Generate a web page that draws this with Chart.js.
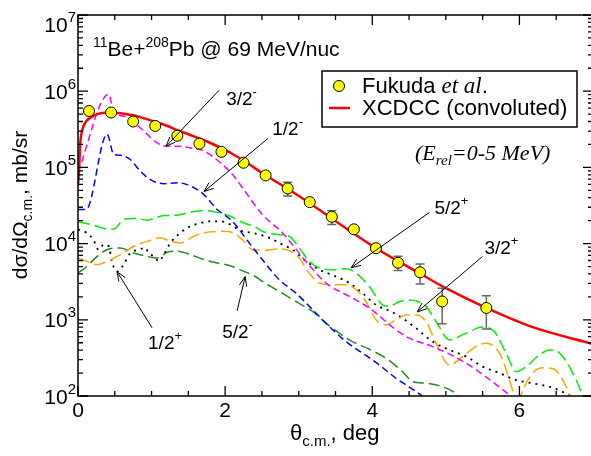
<!DOCTYPE html>
<html>
<head>
<meta charset="utf-8">
<script src="https://cdn.jsdelivr.net/npm/chart.js@4.4.0/dist/chart.umd.min.js"></script>
<style>
  html, body { margin: 0; padding: 0; background: #fff; overflow: hidden; }
  canvas { display: block; }
</style>
</head>
<body>
<canvas id="xsChart" width="594" height="456"></canvas>
<script>
'use strict';

// Fukuda et al. data
let expTheta = [0.15, 0.45, 0.75, 1.05, 1.35, 1.65, 1.95, 2.25, 2.55, 2.85, 3.15, 3.45, 3.75, 4.05, 4.35, 4.65, 4.95, 5.55];
let expSigma = [5.5e5, 5.25e5, 4.0e5, 3.5e5, 2.6e5, 2.05e5, 1.6e5, 1.15e5, 7.85e4, 5.3e4, 3.5e4, 2.25e4, 1.54e4, 8.7e3, 5.6e3, 4.2e3, 1.74e3, 1.43e3];
let expLow = [null, null, null, null, null, null, null, null, null, 4.2e4, null, 1.78e4, null, null, 4.45e3, 2.95e3, 885, 755];
let expHigh = [null, null, null, null, null, null, null, null, null, 6.4e4, null, 2.7e4, null, null, 6.8e3, 5.4e3, 2.6e3, 2.07e3];

// XCDCC (convoluted)
let redTheta = [0, 0.014, 0.031, 0.054, 0.1, 0.17, 0.26, 0.4, 0.58, 0.76, 0.9, 1.05, 1.2, 1.35, 1.5, 1.65, 1.8, 1.95, 2.1, 2.25, 2.56, 2.85, 3.15, 3.45, 3.75, 4.05, 4.35, 4.65, 5.0, 5.55, 6.18, 7.0];
let redSigma = [5.8e4, 9.3e4, 2.1e5, 3.0e5, 3.9e5, 4.5e5, 5.0e5, 5.25e5, 5.15e5, 4.8e5, 4.4e5, 3.98e5, 3.55e5, 3.09e5, 2.72e5, 2.4e5, 2.09e5, 1.78e5, 1.5e5, 1.23e5, 7.76e4, 5.25e4, 3.39e4, 2.14e4, 1.35e4, 8.7e3, 5.9e3, 4.03e3, 2.6e3, 1.43e3, 800, 480];

// 3/2-
let magTheta = [0, 0.418, 0.486, 0.622, 0.735, 0.894, 1.075, 1.211, 1.347, 1.528, 1.71, 1.936, 2.118, 2.254, 2.507, 2.78, 3.098, 3.37, 3.687, 3.959, 4.322, 4.503, 4.82, 5.275, 5.864, 6.0];
let magSigma = [8.6e4, 9.1e5, 5.25e5, 4.7e5, 4.06e5, 3.0e5, 2.1e5, 1.9e5, 1.9e5, 1.8e5, 1.64e5, 1.15e5, 7.7e4, 5.1e4, 2.4e4, 1.38e4, 5.85e3, 3.04e3, 2.03e3, 1.43e3, 738, 574, 445, 269, 103, 80];

// 1/2-
let blueTheta = [0, 0.11, 0.395, 0.486, 0.577, 0.71, 0.848, 0.984, 1.166, 1.347, 1.528, 1.71, 1.891, 2.099, 2.327, 2.507, 2.735, 2.962, 3.188, 3.415, 3.642, 3.868, 4.095, 4.322, 4.458, 4.68];
let blueSigma = [2.8e4, 2.8e4, 2.72e5, 1.48e5, 1.44e5, 1.27e5, 8.9e4, 6.9e4, 6.1e4, 6.3e4, 5.7e4, 4.4e4, 2.8e4, 1.96e4, 1.02e4, 6.15e3, 3.36e3, 2.24e3, 1.36e3, 817, 518, 365, 256, 171, 140, 100];

// 5/2+
let lgTheta = [0, 0.18, 0.36, 0.486, 0.62, 0.758, 0.94, 1.166, 1.347, 1.528, 1.71, 1.891, 2.073, 2.254, 2.39, 2.507, 2.735, 2.87, 3.007, 3.143, 3.279, 3.46, 3.64, 3.778, 3.959, 4.14, 4.23, 4.367, 4.5, 4.62, 4.73, 4.866, 5.048, 5.275, 5.5, 5.637, 5.82, 5.955, 6.09, 6.272, 6.41, 6.55, 6.725, 6.86, 6.95];
let lgSigma = [1.93e4, 1.78e4, 1.58e4, 1.55e4, 2.07e4, 2.14e4, 2.03e4, 2.33e4, 2.36e4, 2.58e4, 2.72e4, 2.57e4, 2.29e4, 1.86e4, 1.69e4, 1.45e4, 1.31e4, 1.25e4, 8.77e3, 5.85e3, 4.79e3, 4.55e3, 4.69e3, 4.11e3, 2.74e3, 1.57e3, 1.5e3, 1.74e3, 1.82e3, 1.74e3, 1.5e3, 951, 546, 668, 802, 738, 363, 209, 243, 347, 403, 363, 200, 102, 63];

// 3/2+
let orTheta = [0, 0.12, 0.26, 0.395, 0.576, 0.758, 0.94, 1.12, 1.256, 1.39, 1.574, 1.8, 1.982, 2.118, 2.235, 2.37, 2.507, 2.735, 2.87, 3.007, 3.14, 3.279, 3.46, 3.64, 3.78, 3.914, 4.05, 4.186, 4.322, 4.458, 4.594, 4.73, 4.866, 5.048, 5.23, 5.41, 5.547, 5.73, 5.864, 5.93, 5.975, 6.02, 6.18, 6.32, 6.45, 6.59, 6.68, 6.75];
let orSigma = [6.46e3, 5.85e3, 5.3e3, 5.85e3, 7.16e3, 9.23e3, 1.07e4, 1.19e4, 1.07e4, 1.02e4, 1.25e4, 1.43e4, 1.45e4, 1.38e4, 1.12e4, 8.3e3, 8.17e3, 8.5e3, 8.1e3, 6.46e3, 4.11e3, 3.04e3, 2.88e3, 2.88e3, 2.48e3, 1.74e3, 1.0e3, 859, 1.0e3, 1.16e3, 1.16e3, 951, 493, 256, 330, 446, 493, 363, 162, 100, 70, 102, 200, 234, 229, 162, 102, 63];

// 1/2+
let blackTheta = [0, 0.12, 0.21, 0.28, 0.35, 0.42, 0.46, 0.53, 0.62, 0.71, 0.826, 0.916, 0.96, 1.03, 1.1, 1.166, 1.256, 1.39, 1.528, 1.664, 1.8, 1.936, 2.07, 2.21, 2.37, 2.6, 2.78, 2.92, 3.1, 3.28, 3.5, 3.687, 3.868, 4.05, 4.25, 4.4, 4.594, 4.82, 5.048, 5.275, 5.5, 5.73, 5.955, 6.18, 6.41, 6.635, 6.72];
let blackSigma = [1.53e4, 1.38e4, 1.12e4, 8.3e3, 9.7e3, 9.2e3, 5.85e3, 4.3e3, 5.3e3, 7.5e3, 8.3e3, 8.8e3, 7.5e3, 6.8e3, 5.85e3, 7.2e3, 1.02e4, 1.38e4, 1.69e4, 1.86e4, 1.96e4, 1.96e4, 1.78e4, 1.48e4, 1.38e4, 1.19e4, 9.7e3, 8.3e3, 5.85e3, 4.55e3, 3.72e3, 3.04e3, 2.24e3, 1.57e3, 1.29e3, 1.07e3, 776, 518, 403, 330, 243, 200, 162, 147, 132, 108, 98];

// 5/2-
let dgTheta = [0, 0.12, 0.26, 0.395, 0.576, 0.758, 0.94, 1.075, 1.21, 1.347, 1.528, 1.71, 1.89, 2.07, 2.254, 2.39, 2.507, 2.735, 2.96, 3.188, 3.37, 3.55, 3.73, 3.96, 4.186, 4.41, 4.548, 4.73, 4.956, 5.14, 5.3];
let dgSigma = [4.11e3, 5.0e3, 6.8e3, 8.3e3, 8.77e3, 7.53e3, 6.8e3, 6.46e3, 7.69e3, 7.94e3, 7.16e3, 6.17e3, 5.57e3, 5.13e3, 4.32e3, 3.8e3, 3.19e3, 2.36e3, 1.74e3, 1.29e3, 904, 668, 518, 411, 313, 209, 154, 147, 132, 107, 71];

let xTickLabels = [0, 2, 4, 6];
let yDecades = [2, 3, 4, 5, 6, 7];

// state labels with arrows, in data units
let stateNotes = [
  { text: '3/2', sup: '-', at: [2.014, 6.5e5], from: [1.918, 1.03e6], to: [1.197, 1.89e5] },
  { text: '1/2', sup: '-', at: [2.64, 2.64e5], from: [2.585, 2.41e5], to: [1.714, 4.83e4] },
  { text: '5/2', sup: '+', at: [4.844, 2.48e4], from: [4.776, 2.56e4], to: [3.714, 4.83e3] },
  { text: '3/2', sup: '+', at: [5.524, 7.38e3], from: [5.497, 6.75e3], to: [4.612, 1.27e3] },
  { text: '1/2', sup: '+', at: [0.952, 415], from: [1.007, 785], to: [0.531, 4.28e3] },
  { text: '5/2', sup: '-', at: [1.959, 579], from: [2.163, 1.31e3], to: [2.272, 3.68e3] }
];

let SANS = '"Liberation Sans", Arial, Helvetica, sans-serif';
let SERIF = '"Liberation Serif", "Times New Roman", serif';

function pairs(xs, ys) {
  return xs.map(function (x, i) {
    return { x: x, y: ys[i] };
  });
}

function curve(label, xs, ys, color, dash, width) {
  return {
    label: label,
    data: pairs(xs, ys),
    borderColor: color,
    borderWidth: width,
    borderDash: dash,
    pointRadius: 0,
    fill: false,
    cubicInterpolationMode: 'monotone'
  };
}

function fontOf(p) {
  return (p.style || '') + ' ' + p.size + 'px ' + (p.family || SANS);
}

// draws a row of text pieces with their own size and vertical shift
function drawRich(ctx, x, y, parts, align) {
  let total = 0;
  parts.forEach(function (p) {
    ctx.font = fontOf(p);
    p.w = ctx.measureText(p.t).width;
    total += p.w;
  });
  let cx = x;
  if (align === 'center') cx = x - total / 2;
  if (align === 'right') cx = x - total;
  ctx.textAlign = 'left';
  ctx.textBaseline = 'alphabetic';
  parts.forEach(function (p) {
    ctx.font = fontOf(p);
    ctx.fillText(p.t, cx, y + (p.dy || 0));
    cx += p.w;
  });
  return total;
}

function arrow(ctx, x1, y1, x2, y2) {
  let ang = Math.atan2(y2 - y1, x2 - x1);
  let len = 10, spread = 0.38;
  ctx.beginPath();
  ctx.moveTo(x1, y1);
  ctx.lineTo(x2, y2);
  ctx.moveTo(x2 - len * Math.cos(ang - spread), y2 - len * Math.sin(ang - spread));
  ctx.lineTo(x2, y2);
  ctx.lineTo(x2 - len * Math.cos(ang + spread), y2 - len * Math.sin(ang + spread));
  ctx.stroke();
}

let decorPlugin = {
  id: 'decor',
  afterDatasetDraw: function (chart, args) {
    if (args.index !== 1) return;
    let ctx = chart.ctx;
    let xs = chart.scales.x, ys = chart.scales.y;
    ctx.save();
    ctx.strokeStyle = '#666666';
    ctx.lineWidth = 1.5;
    expTheta.forEach(function (t, i) {
      if (expLow[i] === null) return;
      let px = xs.getPixelForValue(t);
      let lo = ys.getPixelForValue(expLow[i]);
      let hi = ys.getPixelForValue(expHigh[i]);
      ctx.beginPath();
      ctx.moveTo(px, lo); ctx.lineTo(px, hi);
      ctx.moveTo(px - 4.5, lo); ctx.lineTo(px + 4.5, lo);
      ctx.moveTo(px - 4.5, hi); ctx.lineTo(px + 4.5, hi);
      ctx.stroke();
    });
    ctx.restore();
  },
  afterDraw: function (chart) {
    let ctx = chart.ctx;
    let a = chart.chartArea;
    let xs = chart.scales.x, ys = chart.scales.y;
    ctx.save();
    ctx.strokeStyle = '#000';
    ctx.fillStyle = '#000';

    // frame
    ctx.lineWidth = 1.5;
    ctx.strokeRect(a.left, a.top, a.right - a.left, a.bottom - a.top);

    // x ticks, inward on bottom and top
    ctx.lineWidth = 1.3;
    ctx.beginPath();
    for (let v = 0; v <= 7.001; v += 0.5) {
      let px = xs.getPixelForValue(v);
      let len = (xTickLabels.indexOf(v) >= 0) ? 10 : 5;
      ctx.moveTo(px, a.bottom); ctx.lineTo(px, a.bottom - len);
      ctx.moveTo(px, a.top); ctx.lineTo(px, a.top + len);
    }
    // y ticks, inward on left and right
    yDecades.forEach(function (e) {
      let py = ys.getPixelForValue(Math.pow(10, e));
      ctx.moveTo(a.left, py); ctx.lineTo(a.left + 10, py);
      ctx.moveTo(a.right, py); ctx.lineTo(a.right - 10, py);
      if (e < 7) {
        for (let m = 2; m <= 9; m++) {
          let pm = ys.getPixelForValue(m * Math.pow(10, e));
          ctx.moveTo(a.left, pm); ctx.lineTo(a.left + 5, pm);
          ctx.moveTo(a.right, pm); ctx.lineTo(a.right - 5, pm);
        }
      }
    });
    ctx.stroke();

    // x tick labels
    ctx.font = '21px ' + SANS;
    ctx.textAlign = 'center';
    ctx.textBaseline = 'top';
    xTickLabels.forEach(function (v) {
      ctx.fillText(String(v), xs.getPixelForValue(v), a.bottom + 5);
    });

    // y tick labels 10^n
    yDecades.forEach(function (e) {
      let py = ys.getPixelForValue(Math.pow(10, e));
      let base = Math.max(py + 7.5, 32);
      drawRich(ctx, a.left - 2, base, [
        { t: '10', size: 21 },
        { t: String(e), size: 15, dy: -10 }
      ], 'right');
    });

    // axis titles
    drawRich(ctx, 290, 440, [
      { t: 'θ', size: 22 },
      { t: 'c.m.', size: 15, dy: 6 },
      { t: ', deg', size: 22 }
    ], 'left');
    ctx.save();
    ctx.translate(27, 205);
    ctx.rotate(-Math.PI / 2);
    drawRich(ctx, 0, 0, [
      { t: 'dσ/dΩ', size: 21 },
      { t: 'c.m.', size: 14, dy: 5 },
      { t: ', mb/sr', size: 21 }
    ], 'center');
    ctx.restore();

    // reaction title
    drawRich(ctx, 93, 56, [
      { t: '11', size: 14, dy: -9 },
      { t: 'Be+', size: 21 },
      { t: '208', size: 14, dy: -9 },
      { t: 'Pb @ 69 MeV/nuc', size: 21 }
    ], 'left');

    // energy range note
    drawRich(ctx, 415, 160, [
      { t: '(E', size: 22, style: 'italic', family: SERIF },
      { t: 'rel', size: 15, dy: 5, style: 'italic', family: SERIF },
      { t: '=0-5 MeV)', size: 22, style: 'italic', family: SERIF }
    ], 'left');

    // legend
    ctx.lineWidth = 1.5;
    ctx.strokeStyle = '#000';
    ctx.strokeRect(322, 71, 255, 56);
    ctx.beginPath();
    ctx.arc(339, 86, 5.5, 0, Math.PI * 2);
    ctx.fillStyle = '#ffff00';
    ctx.fill();
    ctx.lineWidth = 1;
    ctx.stroke();
    ctx.beginPath();
    ctx.strokeStyle = '#ff0000';
    ctx.lineWidth = 2.5;
    ctx.moveTo(329, 108); ctx.lineTo(350, 108);
    ctx.stroke();
    ctx.fillStyle = '#000';
    drawRich(ctx, 362, 93, [
      { t: 'Fukuda ', size: 22 },
      { t: 'et al', size: 23, style: 'italic', family: SERIF },
      { t: '.', size: 22 }
    ], 'left');
    drawRich(ctx, 362, 115, [{ t: 'XCDCC (convoluted)', size: 22 }], 'left');

    // state labels and arrows
    ctx.strokeStyle = '#000';
    ctx.lineWidth = 1;
    stateNotes.forEach(function (n) {
      arrow(ctx,
        xs.getPixelForValue(n.from[0]), ys.getPixelForValue(n.from[1]),
        xs.getPixelForValue(n.to[0]), ys.getPixelForValue(n.to[1]));
      drawRich(ctx, xs.getPixelForValue(n.at[0]), ys.getPixelForValue(n.at[1]), [
        { t: n.text, size: 19 },
        { t: n.sup, size: 13, dy: -9 }
      ], 'left');
    });

    ctx.restore();
  }
};

let ctx = document.getElementById('xsChart').getContext('2d');

new Chart(ctx, {
  type: 'line',
  data: {
    datasets: [
      {
        label: 'Fukuda et al.',
        type: 'scatter',
        data: pairs(expTheta, expSigma),
        showLine: false,
        pointRadius: 5.5,
        pointBackgroundColor: '#ffff00',
        pointBorderColor: '#000000',
        pointBorderWidth: 1
      },
      curve('XCDCC (convoluted)', redTheta, redSigma, '#ff0000', [], 2.5),
      curve('3/2-', magTheta, magSigma, '#ff00ff', [7, 4], 1.5),
      curve('1/2-', blueTheta, blueSigma, '#0000ff', [7, 4], 1.5),
      curve('5/2+', lgTheta, lgSigma, '#00ee00', [12, 5], 1.5),
      curve('3/2+', orTheta, orSigma, '#ffa500', [12, 5], 1.5),
      curve('1/2+', blackTheta, blackSigma, '#000000', [2, 5], 1.8),
      curve('5/2-', dgTheta, dgSigma, '#228b22', [11, 5], 1.5)
    ]
  },
  options: {
    responsive: false,
    devicePixelRatio: 1,
    animation: false,
    layout: { autoPadding: false, padding: { left: 78, right: 1, top: 15, bottom: 60 } },
    plugins: {
      legend: { display: false },
      tooltip: { enabled: false }
    },
    scales: {
      x: { type: 'linear', min: 0, max: 7, display: false },
      y: { type: 'logarithmic', min: 100, max: 1e7, display: false }
    }
  },
  plugins: [decorPlugin]
});
</script>
</body>
</html>
